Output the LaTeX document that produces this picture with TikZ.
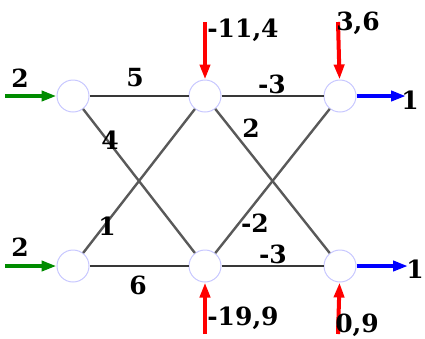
\documentclass[tikz,border=0pt]{standalone}
\usepackage{fontspec}
\setmainfont{DejaVu Serif}
\usetikzlibrary{arrows.meta}

\begin{document}
\begin{tikzpicture}[
   x=1pt,y=-1pt,
   lbl/.style={font=\fontsize{25}{25}\selectfont\bfseries,inner sep=0pt},
   vertex/.style={circle,draw=blue!22,line width=1pt,minimum size=32pt,inner sep=0pt},
   pipe/.style={draw=black!78,line width=2.6pt},
   cross/.style={draw=black!65,line width=2.4pt},
   flow/.style={line width=4pt,-{Triangle[length=15pt,width=10pt]}},
   source/.style={flow,draw=green!55!black},
   sink/.style={flow,draw=blue},
   load/.style={flow,draw=red}
 ]
  \useasboundingbox (0,0) rectangle (425,338);

  % The six junctions of the network.
  \node[vertex] (a1) at (73,96) {};
  \node[vertex] (a2) at (205,96) {};
  \node[vertex] (a3) at (340,96) {};
  \node[vertex] (b1) at (73,266) {};
  \node[vertex] (b2) at (205,266) {};
  \node[vertex] (b3) at (340,266) {};

  % Pipes between the junctions.
  \draw[pipe] (a1) -- (a2);
  \draw[pipe] (a2) -- (a3);
  \draw[pipe] (b1) -- (b2);
  \draw[pipe] (b2) -- (b3);
  \draw[cross] (a1) -- (b2);
  \draw[cross] (b1) -- (a2);
  \draw[cross] (a2) -- (b3);
  \draw[cross] (b2) -- (a3);

  % Free ends of the outside flows.
  \coordinate (inA) at (5,96);
  \coordinate (inB) at (5,266);
  \coordinate (outA) at (406,96);
  \coordinate (outB) at (408,266);
  \coordinate (upA) at (205,22);
  \coordinate (upB) at (338,22);
  \coordinate (dnA) at (205,334);
  \coordinate (dnB) at (338,334);

  \draw[source] (inA) -- (a1);
  \draw[source] (inB) -- (b1);
  \draw[sink] (a3) -- (outA);
  \draw[sink] (b3) -- (outB);
  \draw[load] (upA) -- (a2);
  \draw[load] (upB) -- (a3);
  \draw[load] (dnA) -- (b2);
  \draw[load] (dnB) -- (b3);

  % Pipe values.
  \node[lbl] (l5) at (135,78) {5};
  \node[lbl] (l3a) at (272,84) {-3};
  \node[lbl] (l4) at (110,140) {4};
  \node[lbl] (l2) at (251,128) {2};
  \node[lbl] (l1) at (107,226) {1};
  \node[lbl] (l2n) at (255,223) {-2};
  \node[lbl] (l3b) at (273,254) {-3};
  \node[lbl] (l6) at (138,285) {6};

  % Outside flows.
  \node[lbl] (qA) at (20,78) {2};
  \node[lbl] (qB) at (20,247) {2};
  \node[lbl] (rA) at (410,100) {1};
  \node[lbl] (rB) at (415,269) {1};
  \node[lbl] (sA) at (243,30) {-11,4};
  \node[lbl] (sB) at (358,23) {3,6};
  \node[lbl] (tA) at (243,318) {-19,9};
  \node[lbl] (tB) at (357,325) {0,9};
\end{tikzpicture}
\end{document}
